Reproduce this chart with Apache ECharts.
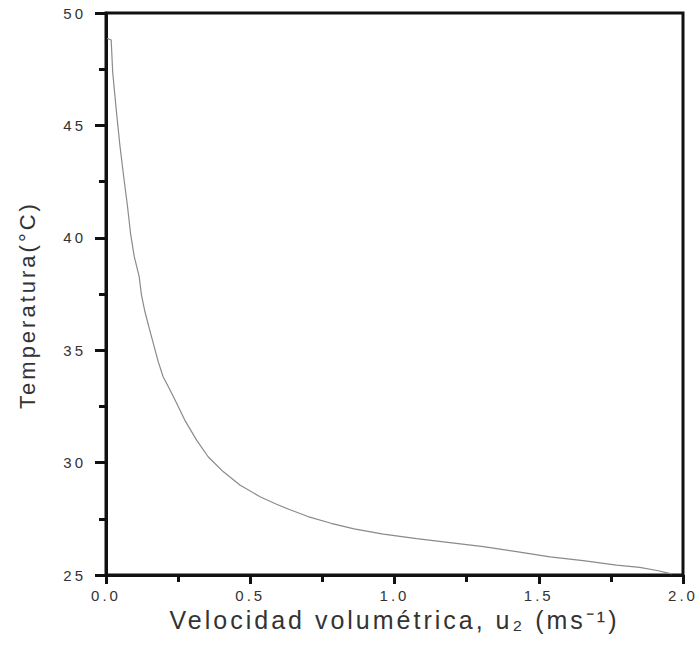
<!DOCTYPE html>
<html>
<head>
<meta charset="utf-8">
<script src="https://cdn.jsdelivr.net/npm/echarts@6/dist/echarts.min.js"></script>
<style>
html,body{margin:0;padding:0;background:#fff;}
#c{width:697px;height:646px;}
#c svg text{letter-spacing:3px;}
</style>
</head>
<body>
<div id="c"></div>
<script>
// Velocidad volumétrica u2 (m/s)
var velocity = [0.004, 0.018, 0.023, 0.035, 0.048, 0.062, 0.074, 0.085, 0.098, 0.115, 0.123, 0.135, 0.150, 0.164, 0.181, 0.198, 0.222, 0.245, 0.273, 0.314, 0.354, 0.406, 0.464, 0.534, 0.591, 0.638, 0.700, 0.780, 0.860, 0.961, 1.077, 1.192, 1.308, 1.423, 1.539, 1.654, 1.770, 1.850, 1.910, 1.960];
// Temperatura (°C)
var temperature = [48.87, 48.80, 47.40, 45.76, 44.13, 42.65, 41.46, 40.20, 39.16, 38.27, 37.45, 36.71, 35.97, 35.30, 34.49, 33.82, 33.23, 32.64, 31.89, 31.00, 30.26, 29.60, 29.00, 28.48, 28.15, 27.90, 27.60, 27.30, 27.05, 26.82, 26.62, 26.44, 26.26, 26.04, 25.81, 25.64, 25.44, 25.34, 25.20, 25.05];
var xTicks = [0.0, 0.5, 1.0, 1.5, 2.0];
var yTicks = [25, 30, 35, 40, 45, 50];

var points = velocity.map(function (v, i) { return [v, temperature[i]]; });

var chart = echarts.init(document.getElementById('c'), null, {renderer: 'svg'});

var labelColor = '#333';
var font = 'Liberation Sans, Arial, sans-serif';
chart.setOption({
  animation: false,
  backgroundColor: '#fff',
  grid: {left: 106, right: 14, top: 13, bottom: 71, show: true, borderColor: '#111', borderWidth: 3, backgroundColor: 'transparent'},
  xAxis: {
    type: 'value',
    min: xTicks[0], max: xTicks[xTicks.length - 1], interval: 0.5,
    axisLine: {show: true, lineStyle: {color: '#111', width: 3}},
    axisTick: {show: true, inside: false, length: 9, lineStyle: {color: '#111', width: 3}},
    minorTick: {show: true, splitNumber: 2, length: 7, lineStyle: {color: '#111', width: 3}},
    splitLine: {show: false},
    axisLabel: {margin: 13, color: labelColor, fontFamily: font, fontSize: 15,
      formatter: function (v) { return v.toFixed(1); }},
    name: 'Velocidad volumétrica, u₂ (ms⁻¹)',
    nameLocation: 'middle',
    nameGap: 30,
    nameTextStyle: {color: labelColor, fontFamily: font, fontSize: 25}
  },
  yAxis: {
    type: 'value',
    min: yTicks[0], max: yTicks[yTicks.length - 1], interval: 5,
    axisLine: {show: true, lineStyle: {color: '#111', width: 3}},
    axisTick: {show: true, inside: false, length: 11, lineStyle: {color: '#111', width: 3}},
    minorTick: {show: true, splitNumber: 2, length: 7, lineStyle: {color: '#111', width: 3}},
    splitLine: {show: false},
    axisLabel: {margin: 20, color: labelColor, fontFamily: font, fontSize: 15},
    name: 'Temperatura(°C)',
    nameLocation: 'middle',
    nameGap: 68,
    nameTextStyle: {color: labelColor, fontFamily: font, fontSize: 22, padding: [0, 22, 0, 0]}
  },
  series: [{
    type: 'line',
    data: points,
    showSymbol: false,
    smooth: false,
    lineStyle: {color: '#8a8a8a', width: 1.2},
    clip: true
  }]
});
</script>
</body>
</html>
